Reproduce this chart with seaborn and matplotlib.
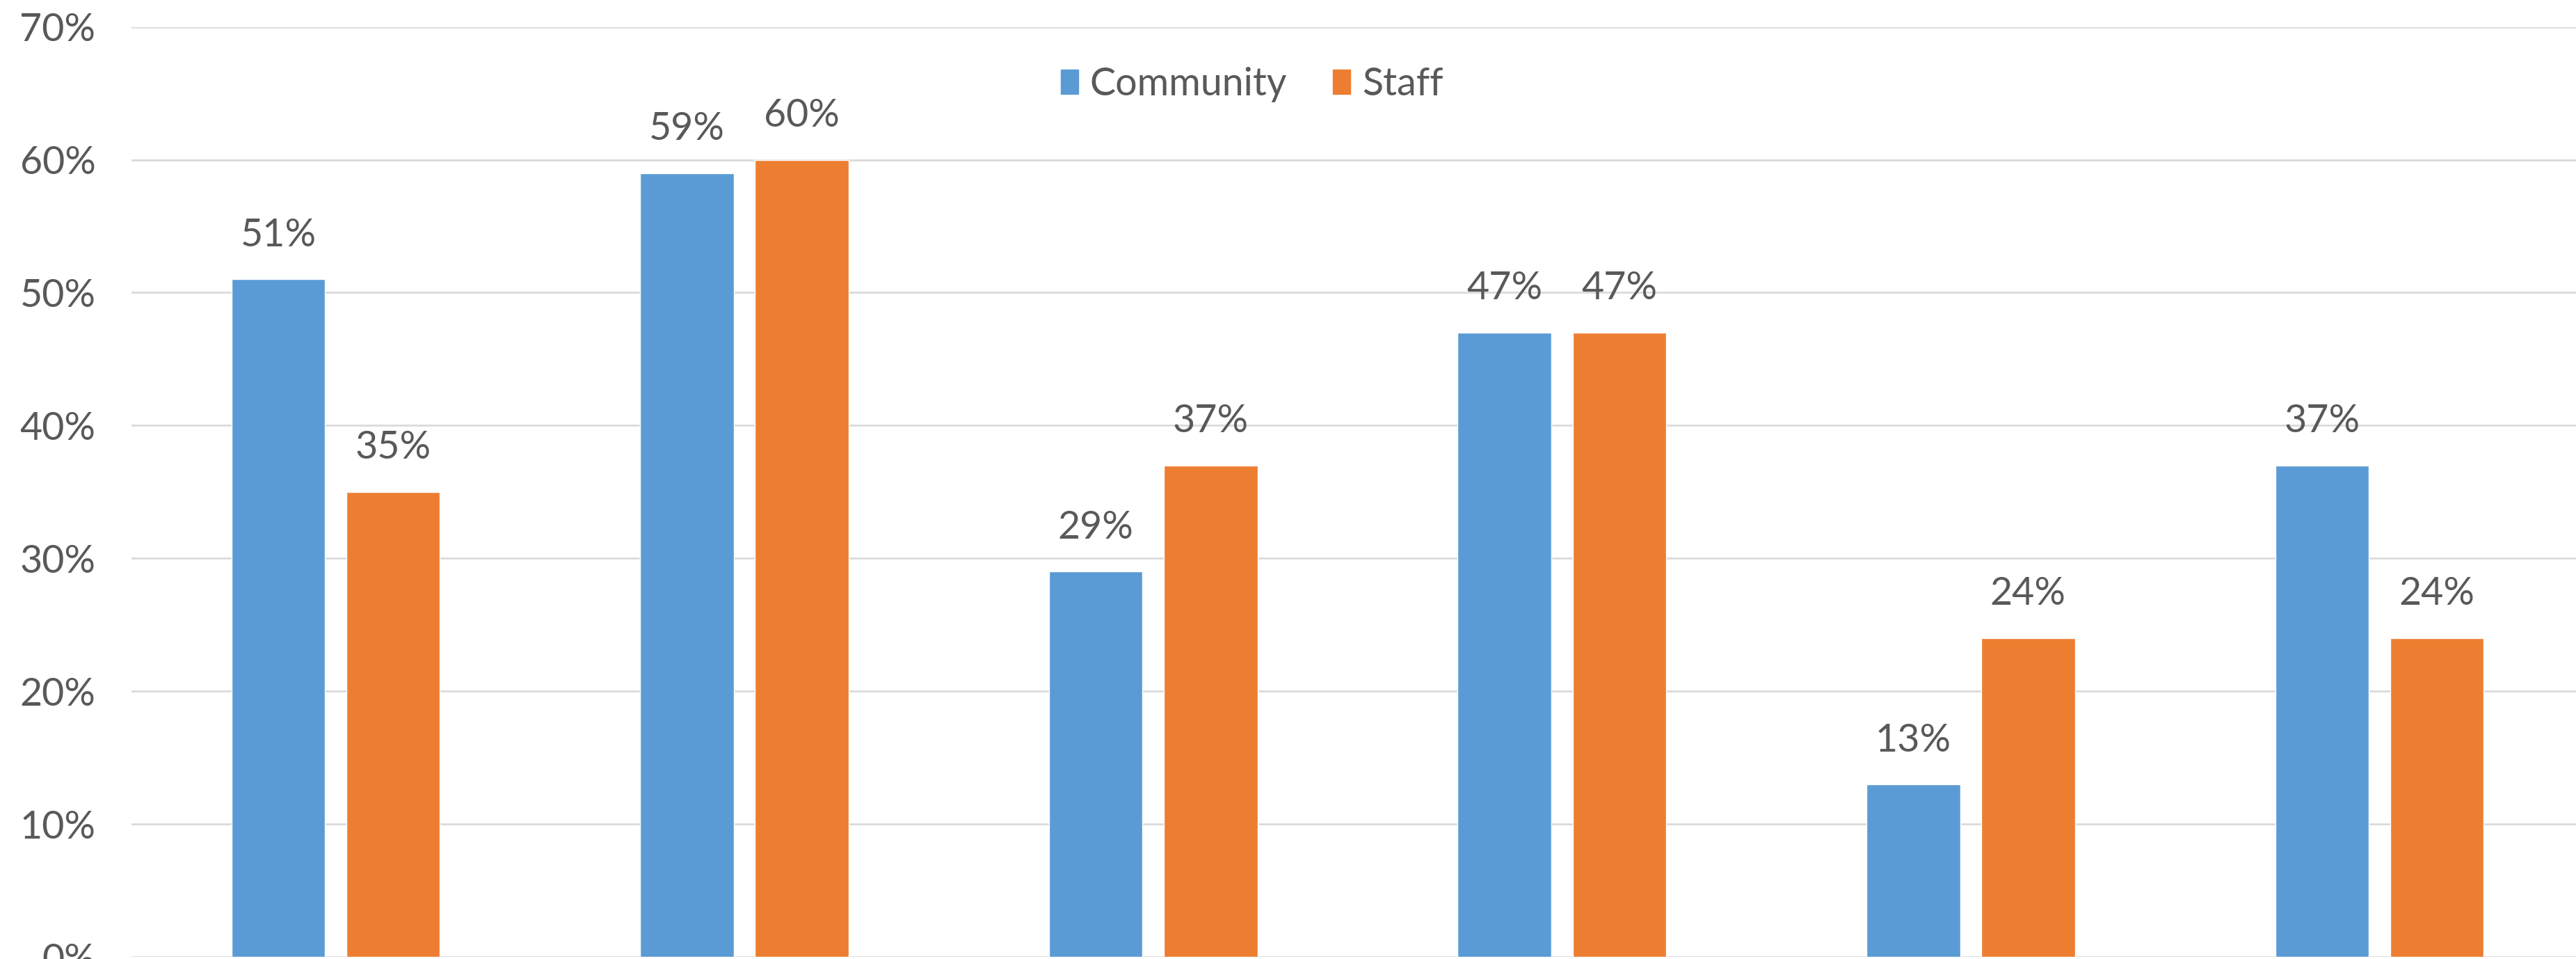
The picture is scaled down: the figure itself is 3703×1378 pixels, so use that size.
import pandas as pd
import matplotlib
matplotlib.use("Agg")
import matplotlib.pyplot as plt
import seaborn as sns
from matplotlib.ticker import PercentFormatter

# Data (percent)
categories = ["A", "B", "C", "D", "E", "F"]
community = [51, 59, 29, 47, 13, 37]
staff = [35, 60, 37, 47, 24, 24]
groups = ["Community", "Staff"]
colors = ["#5B9BD5", "#ED7D31"]

df = pd.DataFrame({
    "Category": categories * 2,
    "Group": [groups[0]] * len(categories) + [groups[1]] * len(categories),
    "Value": [v / 100 for v in community + staff],
})

sns.set_theme(style="white")
plt.rcParams["font.family"] = ["Lato", "DejaVu Sans"]
text_color = "#595959"

fig = plt.figure(figsize=(37.03, 13.78), dpi=100)
ax = fig.add_axes([0.051, 0.002, 0.952, 0.970])

sns.barplot(data=df, x="Category", y="Value", hue="Group", palette=colors,
            width=0.562, gap=0.185, ax=ax, saturation=1, legend=True)

ax.set_ylim(0, 0.70)
ax.set_yticks([i / 10 for i in range(8)])
ax.yaxis.set_major_formatter(PercentFormatter(1.0, decimals=0))
ax.grid(axis="y", color="#D9D9D9", linewidth=1.9)
ax.set_axisbelow(True)
for s in ax.spines.values():
    s.set_visible(False)
ax.tick_params(axis="y", length=0, pad=37, labelsize=40, labelcolor=text_color)
ax.tick_params(axis="x", length=0, labelbottom=False)
ax.set_xlabel("")
ax.set_ylabel("")

for cont in ax.containers:
    ax.bar_label(cont, labels=[f"{round(b.get_height() * 100)}%" for b in cont],
                 padding=27, fontsize=40, color=text_color)

ax.get_legend().remove()
handles = [plt.Rectangle((0, 0), 1, 1, color=c) for c in colors]
leg = fig.legend(handles, groups, loc="center", bbox_to_anchor=(0.486, 0.912),
                 ncol=2, frameon=False, fontsize=40, handlelength=0.45,
                 handleheight=0.6, handletextpad=0.3, columnspacing=1.2)
for t in leg.get_texts():
    t.set_color(text_color)

fig.savefig("out.png", dpi=100)
